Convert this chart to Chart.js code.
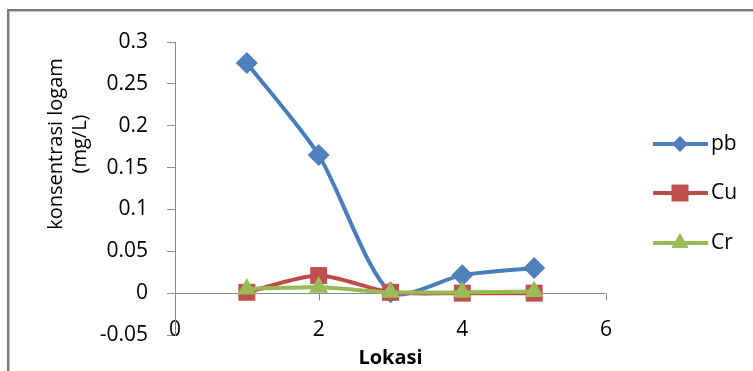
<!DOCTYPE html>
<html>
<head>
<meta charset="utf-8">
<script src="https://cdn.jsdelivr.net/npm/chart.js@4/dist/chart.umd.min.js"></script>
<style>
  html, body { margin: 0; padding: 0; background: #fff; }
  #wrap { width: 753px; height: 371px; }
</style>
</head>
<body>
<div id="wrap"><canvas id="grafik" width="753" height="371"></canvas></div>
<script>
// data
const lokasi = [1, 2, 3, 4, 5];
const pb = [0.275, 0.165, 0.001, 0.0215, 0.03];
const cu = [0.001, 0.021, 0.001, 0.0, 0.0];
const cr = [0.005, 0.007, 0.001, 0.001, 0.002];
const seriesNames = ['pb', 'Cu', 'Cr'];
const xTicks = [0, 2, 4, 6];
const yTitle = ['konsentrasi logam', '(mg/L)'];
const xTitle = 'Lokasi';

const FONT = "'Open Sans', 'Liberation Sans', sans-serif";
const AXIS = '#8a8a8a';

function toPoints(ys) {
    var pts = [];
    for (var i = 0; i < lokasi.length; i++) {
        pts.push({ x: lokasi[i], y: ys[i] });
    }
    return pts;
}

const estilos = [
    { line: '#4A7EBB', fill: '#4F81BD', shape: 'rectRot', r: 11, lr: 8 },
    { line: '#BE4B48', fill: '#C0504D', shape: 'rect', r: 12, lr: 12 },
    { line: '#98B954', fill: '#9BBB59', shape: 'triangle', r: 11, lr: 10 }
];

function marker(ctx, shape, x, y, r) {
    ctx.beginPath();
    if (shape === 'rectRot') {
        ctx.moveTo(x, y - r); ctx.lineTo(x + r, y); ctx.lineTo(x, y + r); ctx.lineTo(x - r, y);
    } else if (shape === 'rect') {
        var s = r * Math.SQRT1_2;
        ctx.rect(x - s, y - s, 2 * s, 2 * s);
    } else {
        var e = 3 * r / Math.sqrt(3), h = e * Math.sqrt(3) / 2;
        ctx.moveTo(x - e / 2, y + h / 3); ctx.lineTo(x + e / 2, y + h / 3); ctx.lineTo(x, y - 2 * h / 3);
    }
    ctx.closePath();
    ctx.fill();
}

// frame, y title, x-axis line at zero, legend
const extras = {
    id: 'extras',
    beforeDraw(chart) {
        const ctx = chart.ctx;
        ctx.save();
        ctx.fillStyle = '#7a7a7a';
        ctx.fillRect(7, 9, 753 - 7, 2);
        ctx.fillRect(7, 9, 2, 371 - 9);
        ctx.fillStyle = '#c4c4c4';
        ctx.fillRect(9, 11, 753 - 9, 1);
        ctx.fillRect(9, 11, 1, 371 - 11);
        ctx.restore();
    },
    beforeDatasetsDraw(chart) {
        const ctx = chart.ctx;
        const xs = chart.scales.x, ys = chart.scales.y;
        const y0 = Math.round(ys.getPixelForValue(0)) + 0.5;
        ctx.save();
        ctx.strokeStyle = AXIS;
        ctx.lineWidth = 1;
        ctx.beginPath();
        xTicks.forEach(function (v) {
            if (v === 0) return;
            const px = Math.round(xs.getPixelForValue(v)) + 0.5;
            ctx.moveTo(px, y0);
            ctx.lineTo(px, y0 + 7);
        });
        ctx.stroke();
        ctx.restore();
    },
    afterDraw(chart) {
        const ctx = chart.ctx;
        ctx.save();
        // y axis title, two lines rotated
        ctx.fillStyle = '#000';
        ctx.font = '20px ' + FONT;
        ctx.textAlign = 'center';
        ctx.textBaseline = 'middle';
        ctx.translate(0, 144);
        ctx.rotate(-Math.PI / 2);
        ctx.fillText(yTitle[0], 0, 56);
        ctx.fillText(yTitle[1], 0, 80);
        ctx.restore();

        // legend
        ctx.save();
        const ly = [144, 193, 243];
        for (var i = 0; i < seriesNames.length; i++) {
            const st = estilos[i];
            ctx.strokeStyle = st.line;
            ctx.lineWidth = 4;
            ctx.beginPath();
            ctx.moveTo(653, ly[i]);
            ctx.lineTo(708, ly[i]);
            ctx.stroke();
            ctx.fillStyle = st.fill;
            marker(ctx, st.shape, 680, ly[i], st.lr);
            ctx.fillStyle = '#000';
            ctx.font = '21px ' + FONT;
            ctx.textAlign = 'left';
            ctx.textBaseline = 'middle';
            ctx.fillText(seriesNames[i], 711, ly[i]);
        }
        ctx.restore();
    }
};

const datasets = [pb, cu, cr].map(function (ys, i) {
    const st = estilos[i];
    return {
        label: seriesNames[i],
        data: toPoints(ys),
        borderColor: st.line,
        backgroundColor: st.fill,
        borderWidth: 4,
        tension: 0.25,
        pointStyle: st.shape,
        pointRadius: st.r,
        pointHoverRadius: st.r,
        pointBorderWidth: 0,
        pointBackgroundColor: st.fill,
        order: 2 - i
    };
});

const config = {
    type: 'line',
    data: { datasets: datasets },
    plugins: [extras],
    options: {
        responsive: false,
        animation: false,
        layout: {
            autoPadding: false,
            padding: { left: 0, top: 42, right: 147, bottom: 0 }
        },
        plugins: {
            legend: { display: false },
            tooltip: { enabled: false }
        },
        scales: {
            x: {
                type: 'linear',
                min: 0,
                max: 6,
                afterFit: function (s) { s.height = 36; },
                afterBuildTicks: function (s) { s.ticks = xTicks.map(function (v) { return { value: v }; }); },
                grid: { display: false },
                border: { display: false },
                ticks: {
                    mirror: true,
                    padding: -8,
                    color: '#000',
                    font: { family: FONT, size: 21 }
                },
                title: {
                    display: true,
                    text: xTitle,
                    color: '#000',
                    padding: { top: 0, bottom: 1 },
                    font: { family: FONT, size: 20, weight: 'bold' }
                }
            },
            y: {
                min: -0.05,
                max: 0.3,
                afterFit: function (s) { s.width = 175; },
                ticks: {
                    stepSize: 0.05,
                    padding: 19,
                    color: '#000',
                    font: { family: FONT, size: 21 },
                    callback: function (v) { return String(Number(v.toFixed(2))); }
                },
                grid: {
                    tickLength: 8,
                    tickColor: AXIS,
                    color: function (c) { return c.tick && Math.abs(c.tick.value) < 1e-9 ? AXIS : 'rgba(0,0,0,0)'; }
                },
                border: { display: true, color: AXIS, width: 1 }
            }
        }
    }
};

const grafik = new Chart(document.getElementById('grafik'), config);
</script>
</body>
</html>
